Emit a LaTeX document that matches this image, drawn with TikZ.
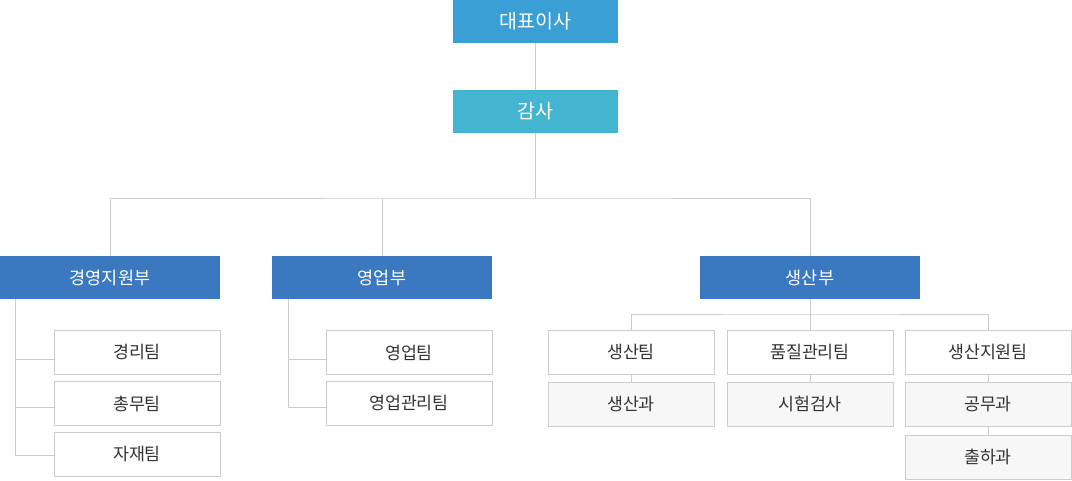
\documentclass[tikz,border=0pt]{standalone}
\usepackage{fontspec}
\setmainfont{Noto Sans CJK KR}
\definecolor{topc}{HTML}{3A9FD4}
\definecolor{audc}{HTML}{44B5D1}
\definecolor{deptc}{HTML}{3A79C0}
\definecolor{linec}{HTML}{CCCCCC}
\definecolor{txtc}{HTML}{333333}
\definecolor{subfill}{HTML}{F7F7F7}
\begin{document}
\begin{tikzpicture}[x=1pt,y=-1pt,
  headbox/.style={fill=#1, draw=none, text=white, minimum width=165pt, minimum height=43pt, inner sep=0pt, font=\fontsize{19.5}{22}\selectfont},
  deptbox/.style={fill=deptc, draw=none, text=white, minimum width=220pt, minimum height=43pt, inner sep=0pt, font=\fontsize{17.5}{20}\selectfont},
  teambox/.style={fill=white, draw=linec, line width=0.9pt, text=txtc, minimum width=166pt, minimum height=44pt, inner sep=0pt, font=\fontsize{17.3}{20}\selectfont},
  unitbox/.style={teambox, fill=subfill},
  conn/.style={draw=linec, line width=0.9pt}]
\useasboundingbox (0,0) rectangle (1072,480);
% top
\node[headbox=topc] (ceo) at (535.5,21.5) {대표이사};
\node[headbox=audc] (aud) at (535.5,111.5) {감사};
% departments
\node[deptbox] (d1) at (110,277.5) {경영지원부};
\node[deptbox] (d2) at (382,277.5) {영업부};
\node[deptbox] (d3) at (810,277.5) {생산부};
% d1 teams
\node[teambox] (t11) at (137,352.5) {경리팀};
\node[teambox] (t12) at (137,403.5) {총무팀};
\node[teambox] (t13) at (137,454.5) {자재팀};
% d2 teams
\node[teambox] (t21) at (409,352.5) {영업팀};
\node[teambox] (t22) at (409,403.5) {영업관리팀};
% d3 teams
\node[teambox] (t31) at (631,352) {생산팀};
\node[teambox] (t32) at (810,352) {품질관리팀};
\node[teambox] (t33) at (988,352) {생산지원팀};
\node[unitbox] (u31) at (631,404) {생산과};
\node[unitbox] (u32) at (810,404) {시험검사};
\node[unitbox] (u33) at (988,404) {공무과};
\node[unitbox] (u34) at (988,457) {출하과};
% connectors
\coordinate (hub) at (535.5,198);
\draw[conn] (ceo.south) -- (aud.north);
\draw[conn] (aud.south) -- (hub);
\draw[conn] (d1.north) |- (hub) -| (d3.north);
\draw[conn] (d2.north) -- (d2.north |- hub);
% d1 tree
\coordinate (d1s) at (15.5,299);
\draw[conn] (d1s) |- ([yshift=-0.5pt]t13.west);
\draw[conn] ([yshift=-6.5pt]t11.west) -- ([yshift=-6.5pt]t11.west -| d1s);
\draw[conn] ([yshift=-3.5pt]t12.west) -- ([yshift=-3.5pt]t12.west -| d1s);
% d2 tree
\coordinate (d2s) at (288,299);
\draw[conn] (d2s) |- ([yshift=-3.5pt]t22.west);
\draw[conn] ([yshift=-6.5pt]t21.west) -- ([yshift=-6.5pt]t21.west -| d2s);
% d3 tree
\coordinate (d3h) at (810,314);
\draw[conn] (d3.south) -- (d3h);
\draw[conn] (t31.north) |- (d3h) -| (t33.north);
\draw[conn] (d3h) -- (t32.north);
\draw[conn] (t31.south) -- (u31.north);
\draw[conn] (t32.south) -- (u32.north);
\draw[conn] (t33.south) -- (u33.north);
\draw[conn] (u33.south) -- (u34.north);
\end{tikzpicture}
\end{document}
